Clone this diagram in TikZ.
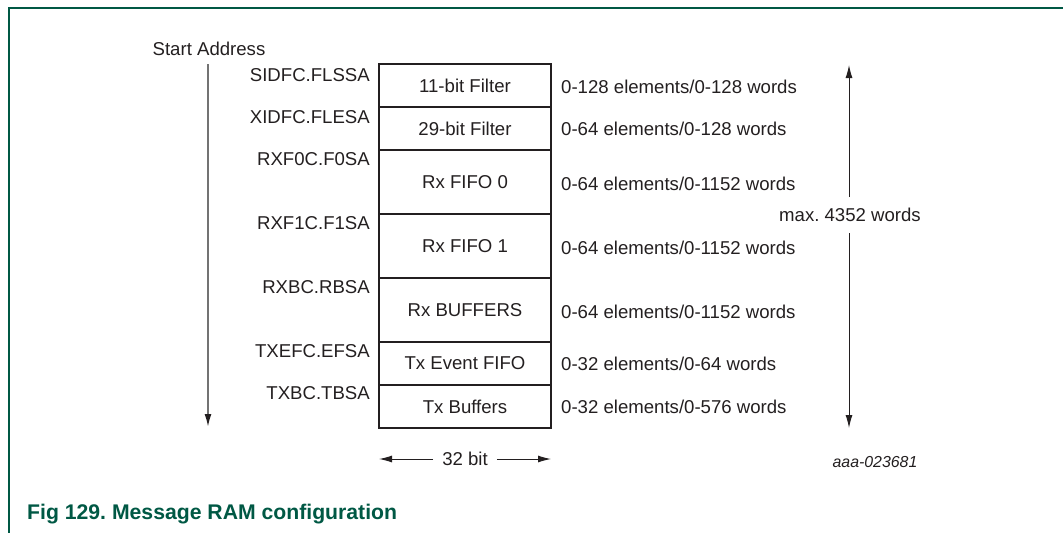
\documentclass[tikz,border=0pt]{standalone}
\usepackage{fontspec}
\setmainfont{Liberation Sans}
\usetikzlibrary{arrows.meta}
\definecolor{nxpgreen}{RGB}{0,88,68}
\definecolor{ink}{RGB}{35,31,32}
\frenchspacing
\tikzset{
  txt/.style={font=\fontsize{18.6}{22}\selectfont, text=ink, inner sep=0pt},
  cell/.style={draw=ink, line width=2pt, minimum width=172pt, inner sep=0pt, font=\fontsize{18.6}{22}\selectfont, text=ink},
  lbl/.style={txt, anchor=east},
  sz/.style={txt, anchor=west},
  thinarrow/.style={draw=ink, line width=1pt, -{Latex[length=13pt,width=7pt]}},
  grayarrow/.style={draw=black!55, line width=1.8pt, -{Latex[length=13pt,width=7pt,color=ink]}},
}
\begin{document}
\frenchspacing
\begin{tikzpicture}[x=1pt,y=-1pt]
\useasboundingbox (0,0) rectangle (1063,533);
% frame
\draw[nxpgreen, line width=1.6pt] (1063,8) -- (9,8) -- (9,533);

% memory cells (x from 379 to 551)
\node[cell, minimum height=43pt] (r1) at (465,85.5) {11-bit Filter};
\node[cell, minimum height=43pt] (r2) at (465,128.5) {29-bit Filter};
\node[cell, minimum height=64pt] (r3) at (465,182) {Rx FIFO 0};
\node[cell, minimum height=64pt] (r4) at (465,246) {Rx FIFO 1};
\node[cell, minimum height=64pt] (r5) at (465,310) {Rx BUFFERS};
\node[cell, minimum height=43pt] (r6) at (465,363.5) {Tx Event FIFO};
\node[cell, minimum height=43pt] (r7) at (465,406.5) {Tx Buffers};

% start address labels
\node[lbl] (a1) at (370,75) {SIDFC.FLSSA};
\node[lbl] (a2) at (370,117) {XIDFC.FLESA};
\node[lbl] (a3) at (370,159) {RXF0C.F0SA};
\node[lbl] (a4) at (370,223) {RXF1C.F1SA};
\node[lbl] (a5) at (370,287) {RXBC.RBSA};
\node[lbl] (a6) at (370,351) {TXEFC.EFSA};
\node[lbl] (a7) at (370,393) {TXBC.TBSA};

% sizes
\node[sz] (s1) at (561,87) {0-128 elements/0-128 words};
\node[sz] (s2) at (561,129) {0-64 elements/0-128 words};
\node[sz] (s3) at (561,184) {0-64 elements/0-1152 words};
\node[sz] (s4) at (561,248) {0-64 elements/0-1152 words};
\node[sz] (s5) at (561,312) {0-64 elements/0-1152 words};
\node[sz] (s6) at (561,364) {0-32 elements/0-64 words};
\node[sz] (s7) at (561,407) {0-32 elements/0-576 words};

% start address arrow
\node[txt] (sa) at (209,49) {Start Address};
\coordinate (saend) at (208,427);
\draw[grayarrow] (208,64) -- (saend);

% max words arrow
\node[txt] (mx) at (850,215) {max. 4352 words};
\coordinate (mtop) at (849,65);
\coordinate (mbot) at (849,428);
\draw[thinarrow] (mtop |- 0,197) -- (mtop);
\draw[thinarrow] (mbot |- 0,233) -- (mbot);

% 32 bit arrow
\node[txt, inner xsep=9pt] (bw) at (465,459) {32 bit};
\coordinate (bl) at (379,459);
\coordinate (br) at (551,459);
\draw[thinarrow] (bw.west) -- (bl);
\draw[thinarrow] (bw.east) -- (br);

% id
\node[txt, font=\fontsize{15.9}{18}\itshape] (id) at (875,462) {aaa-023681};

% caption
\node[anchor=base west, inner sep=0pt, text=nxpgreen, font=\fontsize{21.2}{24}\bfseries] (cap) at (27,519) {Fig 129. Message RAM configuration};
\end{tikzpicture}
\end{document}
